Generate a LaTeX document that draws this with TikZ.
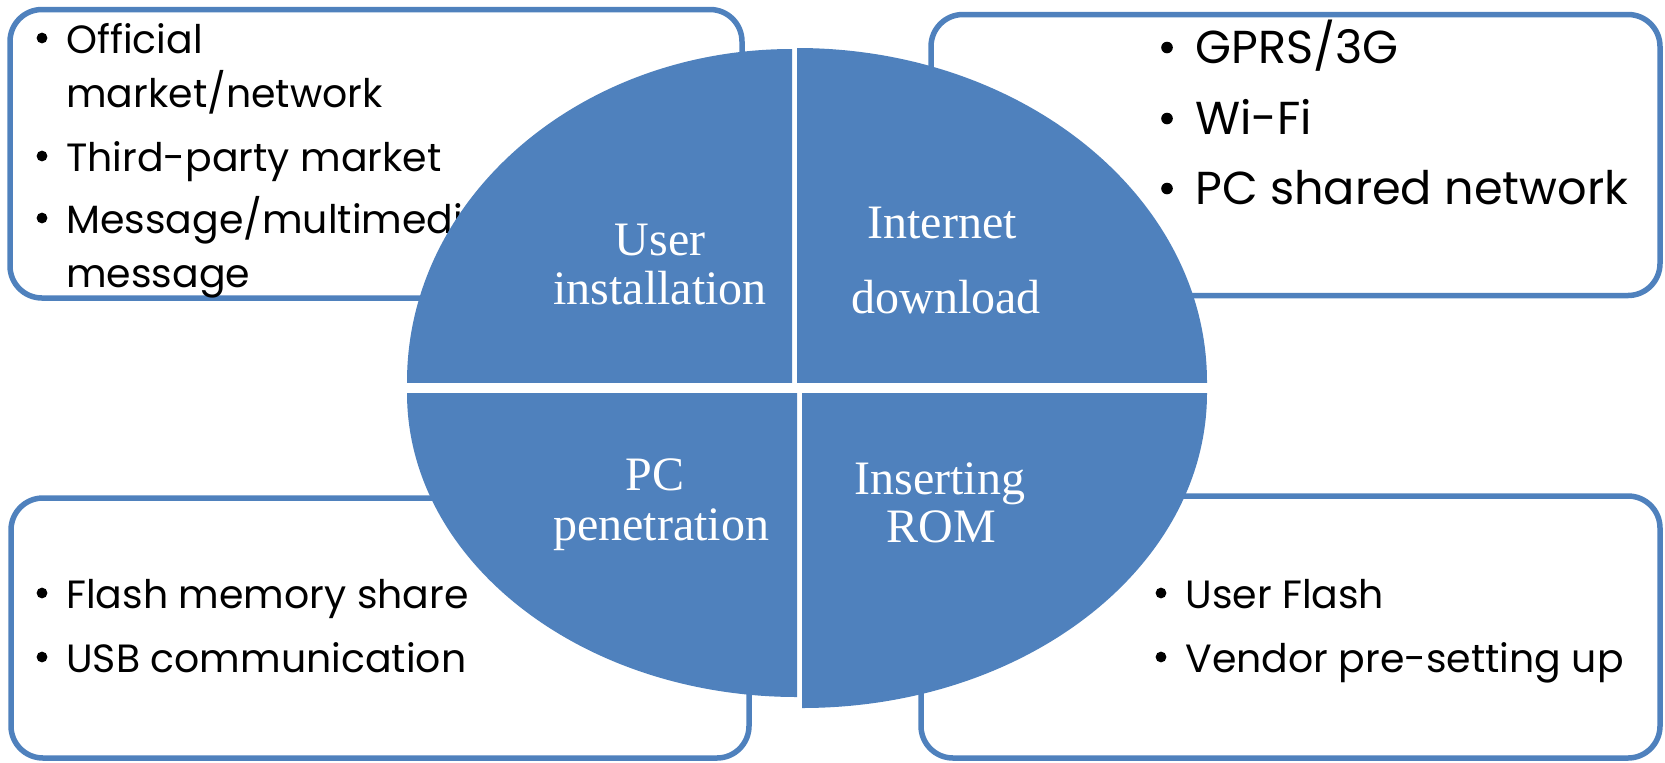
\documentclass[tikz,border=0pt]{standalone}
\usepackage{fontspec}
\newfontfamily\itemfont{Poppins}
\newfontfamily\labelfont{Liberation Serif}
\definecolor{accent}{HTML}{4F81BD}

\begin{document}
\begin{tikzpicture}[x=0.5pt,y=-0.5pt]
\useasboundingbox (0,0) rectangle (1665,762);
\tikzset{
  listbox/.style={draw=accent, line width=2.75pt, rounded corners=16pt, fill=white},
  itemtext/.style={anchor=base west, inner sep=0pt, font={\itemfont\fontsize{19.7pt}{24pt}\selectfont}},
  bigitem/.style={itemtext, font={\itemfont\fontsize{23.1pt}{28pt}\selectfont}},
  dot/.style={circle, fill=black, inner sep=0pt, minimum size=5.4pt},
  bigdot/.style={dot, minimum size=5.8pt},
  sector/.style={fill=accent},
  label/.style={anchor=base, inner sep=0pt, text=white, font={\labelfont\fontsize{24pt}{28pt}\selectfont}}
}

% four rounded list boxes
\draw[listbox] (10,9.5) rectangle (742,298);
\draw[listbox] (931,14.5) rectangle (1660,295.5);
\draw[listbox] (11,498) rectangle (749,758);
\draw[listbox] (921,496) rectangle (1660,758);

% top-left list
\node[dot] (b11) at (42,38) {};
\node[itemtext] (t11) at (66,53) {Official};
\node[itemtext] (t11b) at (66,107) {market/network};
\node[dot] (b12) at (42,156) {};
\node[itemtext] (t12) at (66,171) {Third-party market};
\node[dot] (b13) at (42,218) {};
\node[itemtext] (t13) at (66,233) {Message/multimedia};
\node[itemtext] (t13b) at (66,287) {message};

% top-right list
\node[bigdot] (b21) at (1167,47.5) {};
\node[bigitem] (t21) at (1195,63) {GPRS/3G};
\node[bigdot] (b22) at (1167,118.5) {};
\node[bigitem] (t22) at (1195,134) {Wi-Fi};
\node[bigdot] (b23) at (1167,188.5) {};
\node[bigitem] (t23) at (1195,204) {PC shared network};

% bottom-left list
\node[dot] (b31) at (42,593) {};
\node[itemtext] (t31) at (66,608) {Flash memory share};
\node[dot] (b32) at (42,657) {};
\node[itemtext] (t32) at (66,672) {USB communication};

% bottom-right list
\node[dot] (b41) at (1161,593) {};
\node[itemtext] (t41) at (1185,608) {User Flash};
\node[dot] (b42) at (1161,657) {};
\node[itemtext] (t42) at (1185,672) {Vendor pre-setting up};

% split ellipse: four quarter pieces separated by white gaps
\begin{scope}
  \clip (0,0) rectangle (792,382);
  \fill[sector] (792,382) ellipse [x radius=385, y radius=333];
\end{scope}
\begin{scope}
  \clip (797,0) rectangle (1665,382);
  \fill[sector] (797,382) ellipse [x radius=410, y radius=334];
\end{scope}
\begin{scope}
  \clip (0,393) rectangle (797,762);
  \fill[sector] (797,393) ellipse [x radius=390, y radius=304];
\end{scope}
\begin{scope}
  \clip (802,393) rectangle (1665,762);
  \fill[sector] (802,393) ellipse [x radius=405, y radius=315];
\end{scope}

% piece labels
\node[label] (l1a) at (660,255) {User};
\node[label] (l1b) at (660,304) {installation};
\node[label] (l2a) at (942,238) {Internet};
\node[label] (l2b) at (946,313) {download};
\node[label] (l3a) at (655,490) {PC};
\node[label] (l3b) at (661,540) {penetration};
\node[label] (l4a) at (940,494) {Inserting};
\node[label] (l4b) at (941,542) {ROM};
\end{tikzpicture}
\end{document}
